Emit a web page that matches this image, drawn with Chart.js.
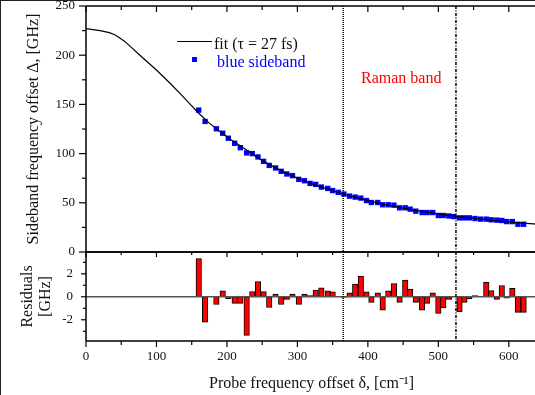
<!DOCTYPE html>
<html>
<head>
<meta charset="utf-8">
<script src="https://cdn.jsdelivr.net/npm/chart.js@4.4.1/dist/chart.umd.min.js"></script>
<style>
  body { margin: 0; background: #fff; }
  #page { position: relative; width: 535px; height: 395px; overflow: hidden; background: #fff; font-family: "Liberation Serif", "Times New Roman", serif; }
  #page canvas { position: absolute; left: 0; }
  #frame { position: absolute; left: 0; top: 0; width: 534px; height: 394px; border-left: 1.5px solid #222; border-top: 1.5px solid #222; }
  .note { position: absolute; font-size: 16px; line-height: 16px; white-space: nowrap; }
</style>
</head>
<body>
<div id="page">
  <canvas id="mainChart" width="545" height="260" style="top:0px"></canvas>
  <canvas id="residualChart" width="545" height="155" style="top:240px"></canvas>
  <div id="frame"></div>
  <div style="position:absolute;left:177px;top:41px;width:35px;border-top:1.3px solid #000"></div>
  <div class="note" style="left:214px;top:36px;color:#111">fit (τ = 27 fs)</div>
  <div style="position:absolute;left:192px;top:57px;width:5px;height:5px;background:#0000ff"></div>
  <div class="note" style="left:217px;top:54px;color:#0000ff">blue sideband</div>
  <div class="note" style="left:361px;top:70px;color:#ff0000">Raman band</div>
</div>
<script>
// probe frequency offset of each measured point [cm-1]
const probeOffset = [
  160, 169, 185, 194, 202, 211, 219, 228, 236, 244,
  252, 260, 269, 277, 285, 293, 302, 310, 318, 326,
  334, 343, 350, 358, 366, 374, 382, 390, 398, 405,
  414, 421, 429, 437, 445, 453, 460, 468, 477, 484,
  492, 500, 507, 515, 522, 530, 537, 544, 552, 560,
  568, 575, 583, 590, 597, 605, 613, 621
];
// blue sideband offset [GHz]
const sidebandShift = [
  144.2, 132.7, 125.2, 120.7, 115.6, 110.5, 106, 100.7, 100, 96.6,
  92.1, 88, 85.4, 82, 79.3, 77.6, 73.8, 72.4, 69.7, 68.7,
  66, 64.6, 62.4, 60.6, 58.9, 56.8, 55.8, 54.8, 52.3, 50.3,
  50.3, 48, 48, 47.6, 44.9, 44.9, 43.5, 41.5, 40.1, 40.1,
  40.1, 37.1, 37.1, 36.6, 36, 34.7, 34.7, 34.7, 34, 33.4,
  33.4, 32.7, 32.4, 32, 30.9, 30.9, 28.2, 28.2
];
// residuals [GHz]
const residuals = [
  3.33, -2.2, -0.67, 0.52, -0.17, -0.58, -0.58, -3.36, 0.46, 1.33,
  0.46, -0.93, 0.23, -0.67, -0.23, 0.23, -0.67, 0.23, 0.1, 0.58,
  0.78, 0.52, 0.43, 0.05, -0.05, 0.35, 1.1, 1.8, 0.43, -0.49,
  0.35, -1.16, 0.52, 1.16, -0.49, 1.45, 0.67, -0.49, -1.16, -0.58,
  0.35, -1.45, -0.96, -0.23, 0.05, -1.3, -0.49, -0.17, 0.1, 0.05,
  1.25, 0.55, -0.23, 0.98, -0.12, 0.74, -1.36, -1.36
];
// fit curve (tau = 27 fs)
const fitOffset = [0, 20, 33, 40, 47, 55, 62, 80, 100, 120, 135, 150, 160, 175, 190, 205, 220, 235, 250, 265, 280, 295,
  310, 330, 350, 370, 390, 410, 430, 450, 470, 490, 510, 530, 550, 570, 590, 610, 640];
const fitShift = [227, 225, 223, 221, 218, 214, 209.5, 197.6, 185, 171, 160, 148.5, 141, 131, 122.4, 114.3, 107.5, 100, 93, 87, 81.5, 76.6,
  72.2, 67, 62.2, 57.9, 54, 50.5, 47.4, 44.6, 42.1, 39.8, 37.8, 36, 34.3, 32.6, 31.1, 29.8, 28.4];

const xTicks = [0, 100, 200, 300, 400, 500, 600];
const shiftTicks = [0, 50, 100, 150, 200, 250];
const residualTicks = [-2, 0, 2];
const ramanBand = [365, 525];

Chart.defaults.font.family = '"Liberation Serif", "Times New Roman", serif';
Chart.defaults.color = '#111';

function line(ctx, x1, y1, x2, y2) {
  ctx.beginPath();
  ctx.moveTo(x1, y1);
  ctx.lineTo(x2, y2);
  ctx.stroke();
}

function drawBand(chart) {
  const { ctx, chartArea: a, scales } = chart;
  ctx.save();
  ctx.strokeStyle = '#000';
  ctx.lineWidth = 1.5;
  ctx.setLineDash([1, 1]);
  let x = scales.x.getPixelForValue(ramanBand[0]);
  line(ctx, x, a.top, x, a.bottom);
  ctx.setLineDash([3, 1.5, 1, 1.5]);
  x = scales.x.getPixelForValue(ramanBand[1]);
  line(ctx, x, a.top, x, a.bottom);
  ctx.restore();
}

const mainFrame = {
  id: 'mainFrame',
  afterDraw(chart) {
    const { ctx, chartArea: a, scales: { x, y } } = chart;
    ctx.save();
    ctx.strokeStyle = '#000';
    ctx.lineWidth = 1.5;
    line(ctx, a.left, a.top, a.right + 10, a.top);
    line(ctx, a.left, a.top, a.left, a.bottom);
    line(ctx, a.left, a.bottom, a.right + 10, a.bottom);
    ctx.lineWidth = 1.2;
    for (let v = 0; v <= 250; v += 25) {
      const py = y.getPixelForValue(v);
      line(ctx, a.left - (shiftTicks.includes(v) ? 7 : 4), py, a.left, py);
    }
    for (let v = 0; v <= 600; v += 50) {
      const px = x.getPixelForValue(v);
      line(ctx, px, a.top, px, a.top + (xTicks.includes(v) ? 6 : 4));
    }
    ctx.restore();
    drawBand(chart);
  }
};

const residualFrame = {
  id: 'residualFrame',
  afterDatasetsDraw(chart) {
    const { ctx, chartArea: a, scales: { y } } = chart;
    ctx.save();
    ctx.strokeStyle = '#555';
    ctx.lineWidth = 1.5;
    const py = y.getPixelForValue(0);
    line(ctx, a.left, py, a.right + 10, py);
    ctx.restore();
  },
  afterDraw(chart) {
    const { ctx, chartArea: a, scales: { x, y } } = chart;
    ctx.save();
    ctx.strokeStyle = '#000';
    ctx.lineWidth = 1.5;
    line(ctx, a.left, a.top, a.right + 10, a.top);
    line(ctx, a.left, a.top, a.left, a.bottom);
    line(ctx, a.left, a.bottom, a.right + 10, a.bottom);
    ctx.lineWidth = 1.2;
    for (let v = 0; v <= 600; v += 50) {
      const px = x.getPixelForValue(v);
      const major = xTicks.includes(v);
      line(ctx, px, a.top, px, a.top + (major ? 5 : 3));
      line(ctx, px, a.bottom, px, a.bottom + (major ? 6 : 4));
    }
    for (let v = -3; v <= 3; v++) {
      const py = y.getPixelForValue(v);
      line(ctx, a.left - (residualTicks.includes(v) ? 5 : 3), py, a.left, py);
    }
    ctx.restore();
    drawBand(chart);
  }
};

new Chart(document.getElementById('mainChart'), {
  type: 'scatter',
  data: {
    datasets: [
      {
        label: 'fit (τ = 27 fs)',
        data: fitOffset.map((v, i) => ({ x: v, y: fitShift[i] })),
        showLine: true,
        borderColor: '#000',
        borderWidth: 1.2,
        pointRadius: 0,
        tension: 0
      },
      {
        label: 'blue sideband',
        data: probeOffset.map((v, i) => ({ x: v, y: sidebandShift[i] })),
        pointStyle: 'rect',
        pointRadius: 3.8,
        backgroundColor: '#0000ff',
        borderWidth: 0
      }
    ]
  },
  options: {
    responsive: false,
    animation: false,
    events: [],
    layout: { padding: { top: 6, right: 8, bottom: 8, left: 0 } },
    plugins: { legend: { display: false }, tooltip: { enabled: false } },
    scales: {
      x: { type: 'linear', min: 0, max: 640, display: false },
      y: {
        min: 0,
        max: 250,
        afterBuildTicks: s => { s.ticks = shiftTicks.map(v => ({ value: v })); },
        afterFit: s => { s.width = 86; s.paddingTop = 0; s.paddingBottom = 0; },
        grid: { display: false, drawTicks: false },
        border: { display: false },
        ticks: { padding: 11, font: { size: 13, lineHeight: 1 } },
        title: {
          display: true,
          text: 'Sideband frequency offset Δ, [GHz]',
          font: { size: 16 },
          padding: { top: 24, bottom: 0 }
        }
      }
    }
  },
  plugins: [mainFrame]
});

new Chart(document.getElementById('residualChart'), {
  type: 'bar',
  data: {
    datasets: [{
      label: 'Residuals',
      data: probeOffset.map((v, i) => ({ x: v, y: residuals[i] })),
      backgroundColor: '#ff0000',
      borderColor: '#000',
      borderWidth: 1,
      borderSkipped: false,
      barThickness: 5.5,
      grouped: false
    }]
  },
  options: {
    responsive: false,
    animation: false,
    events: [],
    layout: { padding: { top: 12, right: 8, bottom: 0, left: 0 } },
    plugins: { legend: { display: false }, tooltip: { enabled: false } },
    scales: {
      x: {
        type: 'linear',
        min: 0,
        max: 640,
        offset: false,
        afterBuildTicks: s => { s.ticks = xTicks.map(v => ({ value: v })); },
        afterFit: s => { s.height = 54; s.paddingLeft = 0; s.paddingRight = 0; },
        grid: { display: false, drawTicks: false },
        border: { display: false },
        ticks: { padding: 9, autoSkip: false, maxRotation: 0, font: { size: 13, lineHeight: 1 } },
        title: {
          display: true,
          text: 'Probe frequency offset δ, [cm⁻¹]',
          font: { size: 16 },
          padding: { top: 0, bottom: 2 }
        }
      },
      y: {
        min: -3.85,
        max: 3.9,
        afterBuildTicks: s => { s.ticks = residualTicks.map(v => ({ value: v })); },
        afterFit: s => { s.width = 86; s.paddingTop = 0; s.paddingBottom = 0; },
        grid: { display: false, drawTicks: false },
        border: { display: false },
        ticks: { padding: 13, font: { size: 13, lineHeight: 1 } },
        title: {
          display: true,
          text: ['Residuals', '[GHz]'],
          font: { size: 16, lineHeight: 1.1 },
          padding: { top: 19, bottom: 0 }
        }
      }
    }
  },
  plugins: [residualFrame]
});
</script>
</body>
</html>
